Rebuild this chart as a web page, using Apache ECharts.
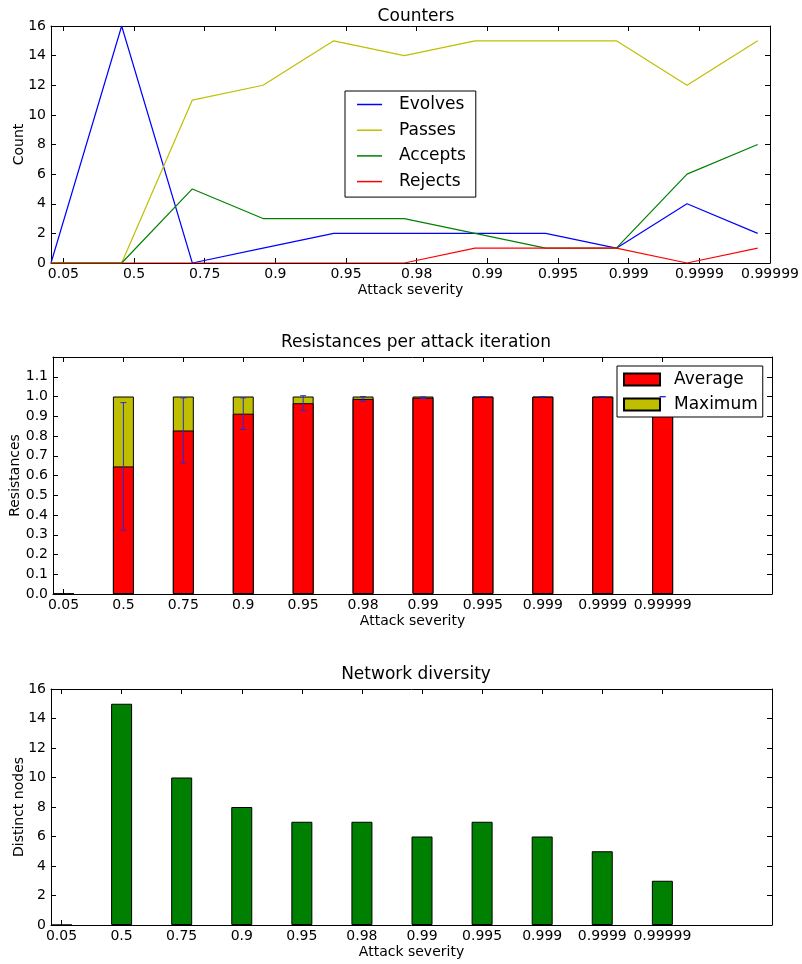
<!DOCTYPE html>
<html>
<head>
<meta charset="utf-8">
<script src="https://cdn.jsdelivr.net/npm/echarts@6/dist/echarts.min.js"></script>
<style>html,body{margin:0;padding:0;background:#fff}#c{width:802px;height:964px}</style>
</head>
<body>
<div id="c"></div>
<script>
// ---- data ----
const severities = ['0.05','0.5','0.75','0.9','0.95','0.98','0.99','0.995','0.999','0.9999','0.99999'];
const evolves = [0,16,0,1,2,2,2,2,1,4,2];
const passes  = [0,0,11,12,15,14,15,15,15,12,15];
const accepts = [0,0,5,3,3,3,2,1,1,6,8];
const rejects = [0,0,0,0,0,0,1,1,1,0,1];
const resAverage = [0,0.646,0.828,0.913,0.966,0.988,0.994,0.999,0.999,0.999,0.999];
const resMaximum = [0,1,1,1,1,1,1,1,1,1,1];
const resError   = [0,0.323,0.165,0.080,0.038,0.012,0.004,0.001,0.001,0.001,0.001];
const diversity  = [0,15,10,8,7,7,6,7,6,5,3];
const countTicks = [0,2,4,6,8,10,12,14,16];

// ---- layout helpers ----
const FONT = 'DejaVu Sans';
const OFF = 0.175; // half bar width (matplotlib ind + width/2)
const tickPos = severities.map((_, i) => i + OFF);
const labelFor = v => { const i = Math.round(v - OFF); return severities[i] !== undefined ? severities[i] : ''; };

const grids = [
  {left: 51, top: 26, width: 721, height: 237},
  {left: 51, top: 357, width: 721, height: 237},
  {left: 51, top: 689, width: 721, height: 236}
];
const xMax = [10.175, 12, 12];

function xAxes(g) {
  const base = {
    type: 'value', gridIndex: g, min: 0, max: xMax[g],
    axisLine: {show: true, onZero: false, lineStyle: {color: '#000', width: 1}},
    axisTick: {show: true, inside: true, length: 5, customValues: tickPos, lineStyle: {color: '#000'}},
    splitLine: {show: false}
  };
  return [
    Object.assign({}, base, {
      position: 'bottom',
      axisLabel: {show: true, customValues: tickPos, formatter: labelFor, margin: 4,
                  color: '#000', fontFamily: FONT, fontSize: 14},
      name: 'Attack severity', nameLocation: 'middle', nameGap: 20, nameMoveOverlap: false,
      nameTextStyle: {color: '#000', fontFamily: FONT, fontSize: 14}
    }),
    Object.assign({}, base, {position: 'top', axisLabel: {show: false}})
  ];
}
function yAxes(g, opts) {
  const base = {
    type: 'value', gridIndex: g, min: opts.min, max: opts.max, interval: opts.interval,
    axisLine: {show: true, onZero: false, lineStyle: {color: '#000', width: 1}},
    axisTick: {show: true, inside: true, length: 5, lineStyle: {color: '#000'}},
    splitLine: {show: false}
  };
  return [
    Object.assign({}, base, {
      position: 'left',
      axisLabel: {show: true, margin: 5, color: '#000', fontFamily: FONT, fontSize: 14,
                  showMaxLabel: opts.showMax, formatter: opts.fmt},
      name: opts.name, nameLocation: 'middle', nameGap: opts.nameGap, nameMoveOverlap: false,
      nameTextStyle: {color: '#000', fontFamily: FONT, fontSize: 14}
    }),
    Object.assign({}, base, {position: 'right', axisLabel: {show: false}})
  ];
}

const xs = [].concat(xAxes(0), xAxes(1), xAxes(2));
const ys = [].concat(
  yAxes(0, {min: countTicks[0], max: countTicks[countTicks.length-1], interval: 2, name: 'Count', nameGap: 25, showMax: true, fmt: v => String(v)}),
  yAxes(1, {min: 0, max: 1.2, interval: 0.1, name: 'Resistances', nameGap: 31, showMax: false, fmt: v => v.toFixed(1)}),
  yAxes(2, {min: 0, max: 16, interval: 2, name: 'Distinct nodes', nameGap: 25, showMax: true, fmt: v => String(v)})
);

const lineSeries = (name, arr, color) => ({
  name, type: 'line', xAxisIndex: 0, yAxisIndex: 0, symbol: 'none',
  lineStyle: {color, width: 1.2}, itemStyle: {color},
  data: arr.map((v, i) => [i, v])
});

const barStyle = color => ({color, borderColor: '#000', borderWidth: 1});

const option = {
  animation: false,
  backgroundColor: '#fff',
  title: [
    {text: 'Counters', left: 411, top: 3, textAlign: 'center', textStyle: {color: '#000', fontFamily: FONT, fontSize: 17, fontWeight: 'normal'}},
    {text: 'Resistances per attack iteration', left: 411, top: 329, textAlign: 'center', textStyle: {color: '#000', fontFamily: FONT, fontSize: 17, fontWeight: 'normal'}},
    {text: 'Network diversity', left: 411, top: 661, textAlign: 'center', textStyle: {color: '#000', fontFamily: FONT, fontSize: 17, fontWeight: 'normal'}}
  ],
  legend: [
    {
      data: ['Evolves', 'Passes', 'Accepts', 'Rejects'],
      orient: 'vertical', left: 345, top: 91, icon: 'rect',
      backgroundColor: '#fff', borderColor: '#000', borderWidth: 1, borderRadius: 0,
      padding: [5, 10, 7, 12], itemGap: 8.7, itemWidth: 25, itemHeight: 1.5,
      textStyle: {color: '#000', fontFamily: FONT, fontSize: 17, lineHeight: 17, padding: [0, 0, 0, 12]}
    },
    {
      data: ['Average', 'Maximum'],
      orient: 'vertical', left: 617, top: 366,
      backgroundColor: '#fff', borderColor: '#000', borderWidth: 1, borderRadius: 0,
      padding: [5, 5, 4, 6], itemGap: 8, itemWidth: 36, itemHeight: 12, icon: 'rect',
      textStyle: {color: '#000', fontFamily: FONT, fontSize: 17, lineHeight: 17, padding: [0, 0, 0, 9]}
    }
  ],
  grid: grids,
  xAxis: xs,
  yAxis: ys,
  series: [
    lineSeries('Evolves', evolves, '#0000ff'),
    lineSeries('Passes', passes, '#bfbf00'),
    lineSeries('Accepts', accepts, '#008000'),
    lineSeries('Rejects', rejects, '#ff0000'),
    {
      name: 'Maximum', type: 'bar', xAxisIndex: 2, yAxisIndex: 2, barWidth: 21, barGap: '-100%',
      itemStyle: barStyle('#bfbf00'),
      data: resMaximum.map((v, i) => [tickPos[i], v])
    },
    {
      name: 'Average', type: 'bar', xAxisIndex: 2, yAxisIndex: 2, barWidth: 21, barGap: '-100%',
      itemStyle: barStyle('#ff0000'),
      data: resAverage.map((v, i) => [tickPos[i], v])
    },
    {
      name: 'err', type: 'custom', xAxisIndex: 2, yAxisIndex: 2, z: 5,
      data: resAverage.map((v, i) => [tickPos[i], v, resError[i]]),
      renderItem: (params, api) => {
        const x = api.value(0), y = api.value(1), e = api.value(2);
        if (!e) return null;
        const t = api.coord([x, y + e]), b = api.coord([x, y - e]);
        const st = {stroke: '#2a2ad0', lineWidth: 1};
        return {type: 'group', children: [
          {type: 'line', shape: {x1: t[0], y1: t[1], x2: b[0], y2: b[1]}, style: st},
          {type: 'line', shape: {x1: t[0]-3, y1: t[1], x2: t[0]+3, y2: t[1]}, style: st},
          {type: 'line', shape: {x1: b[0]-3, y1: b[1], x2: b[0]+3, y2: b[1]}, style: st}
        ]};
      }
    },
    {
      name: 'Distinct nodes', type: 'bar', xAxisIndex: 4, yAxisIndex: 4, barWidth: 21,
      itemStyle: barStyle('#008000'),
      data: diversity.map((v, i) => [tickPos[i], v])
    }
  ]
};

const chart = echarts.init(document.getElementById('c'), null, {renderer: 'canvas'});
chart.setOption(option);
</script>
</body>
</html>
